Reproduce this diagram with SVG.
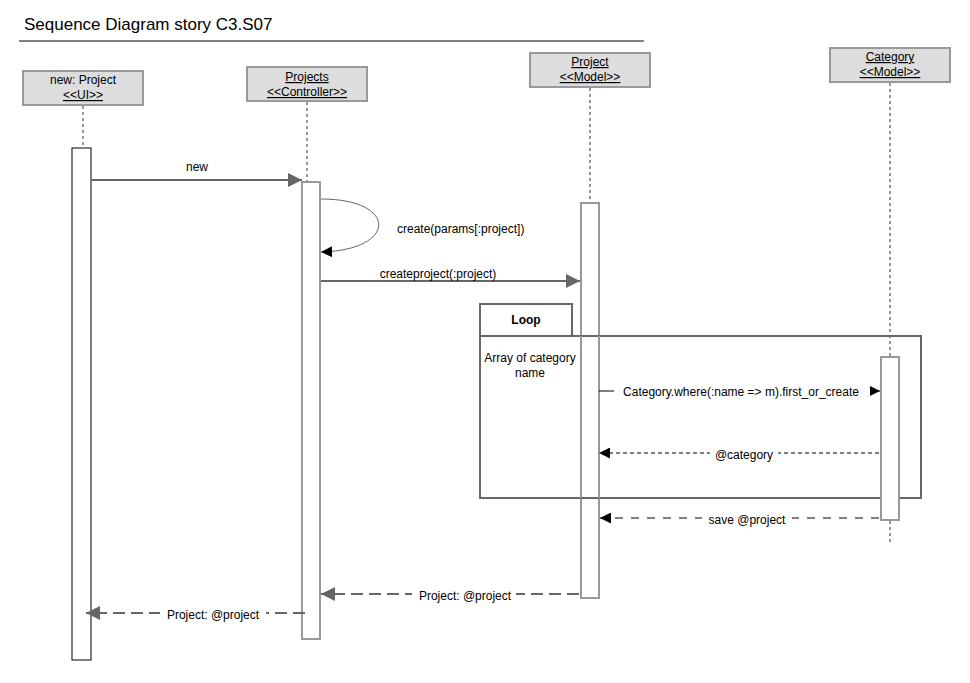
<svg xmlns="http://www.w3.org/2000/svg" width="970" height="683" viewBox="0 0 970 683">
<style>
text{font-family:"Liberation Sans",Arial,sans-serif;font-size:12px;fill:#000}
.hdr{fill:#dddddd;stroke:#999;stroke-width:2}
.u{text-decoration:underline}
.life{stroke:#999;stroke-width:2;stroke-dasharray:3 3;fill:none}
.act{fill:#fff;stroke:#999;stroke-width:2}
.g{stroke:#666;stroke-width:2;fill:none}
.gd{stroke:#666;stroke-width:2;fill:none;stroke-dasharray:12 6}
.k{stroke:#000;stroke-width:1;fill:none}
.kd{stroke:#000;stroke-width:1;fill:none;stroke-dasharray:4 3}
.kd2{stroke:#000;stroke-width:1;fill:none;stroke-dasharray:8 8}
.lbl{text-anchor:middle}
.bg{fill:#fff}
</style>
<defs>
<marker id="agl" viewBox="0 0 10 10" refX="10" refY="5" markerWidth="14" markerHeight="14" markerUnits="userSpaceOnUse" orient="auto"><path d="M0,0L10,5L0,10z" fill="#666"/></marker>
<marker id="ak" viewBox="0 0 10 10" refX="10" refY="5" markerWidth="11" markerHeight="11" markerUnits="userSpaceOnUse" orient="auto"><path d="M0,0L10,5L0,10z" fill="#000"/></marker>
</defs>

<text x="24" y="30" style="font-size:17px">Sequence Diagram story C3.S07</text>
<line x1="19" y1="41" x2="644" y2="41" stroke="#000" stroke-width="1"/>

<g id="ui">
<rect class="hdr" x="23" y="71" width="120" height="34"/>
<text class="lbl" x="83" y="84">new: Project</text>
<text class="lbl u" x="83" y="99">&lt;&lt;UI&gt;&gt;</text>
<line class="life" x1="83" y1="106" x2="83" y2="147"/>
<rect x="72" y="148" width="19" height="512" fill="#fff" stroke="#000" stroke-width="1"/>
</g>

<g id="controller">
<rect class="hdr" x="247" y="67" width="120" height="34"/>
<text class="lbl u" x="307" y="81">Projects</text>
<text class="lbl u" x="307" y="96">&lt;&lt;Controller&gt;&gt;</text>
<line class="life" x1="307" y1="102" x2="307" y2="181"/>
<rect class="act" x="302" y="182" width="18" height="457"/>
</g>

<g id="projectmodel">
<rect class="hdr" x="530" y="53" width="120" height="34"/>
<text class="lbl u" x="590" y="66">Project</text>
<text class="lbl u" x="590" y="81">&lt;&lt;Model&gt;&gt;</text>
<line class="life" x1="590" y1="88" x2="590" y2="202"/>
<rect class="act" x="581" y="203" width="18" height="395"/>
</g>

<g id="categorymodel">
<rect class="hdr" x="830" y="48" width="120" height="34"/>
<text class="lbl u" x="890" y="61">Category</text>
<text class="lbl u" x="890" y="76">&lt;&lt;Model&gt;&gt;</text>
<line class="life" x1="890" y1="83" x2="890" y2="543"/>
</g>

<g id="loop">
<rect x="480" y="336" width="441" height="162" fill="none" stroke="#666" stroke-width="2"/>
<rect x="480" y="304" width="92" height="32" fill="#fff" stroke="#666" stroke-width="2"/>
<text class="lbl" x="526" y="324" style="font-weight:bold">Loop</text>
<text class="lbl" x="530" y="362">Array of category</text>
<text class="lbl" x="530" y="377">name</text>
</g>

<g id="catact">
<rect class="act" x="881" y="357" width="18" height="163"/>
</g>
<g id="projact-over">
<line x1="581" y1="336" x2="581" y2="498" stroke="#999" stroke-width="2"/>
<line x1="599" y1="336" x2="599" y2="498" stroke="#999" stroke-width="2"/>
<rect x="582" y="337" width="16" height="160" fill="#fff"/>
</g>

<g id="connectors">
<line class="g" x1="91" y1="180" x2="302" y2="180" marker-end="url(#agl)"/>
<text class="lbl" x="197" y="171">new</text>

<path d="M321,199 C398,199 398,250 321,252" stroke="#666" stroke-width="1" fill="none" marker-end="url(#ak)"/>
<text x="397" y="233">create(params[:project])</text>

<line class="g" x1="321" y1="281" x2="580" y2="281" marker-end="url(#agl)"/>
<text class="lbl" x="438" y="278">createproject(:project)</text>

<line class="k" x1="599" y1="391" x2="880" y2="391" marker-end="url(#ak)"/>
<rect class="bg" x="614" y="383" width="256" height="16"/>
<text class="lbl" x="741" y="396">Category.where(:name =&gt; m).first_or_create</text>

<line class="kd" x1="879" y1="453" x2="599" y2="453" marker-end="url(#ak)"/>
<rect class="bg" x="710" y="445" width="68" height="16"/>
<text class="lbl" x="744" y="459">@category</text>

<line class="kd2" x1="879" y1="518" x2="600" y2="518" marker-end="url(#ak)"/>
<rect class="bg" x="702" y="510" width="90" height="16"/>
<text class="lbl" x="747" y="524">save @project</text>

<line class="gd" x1="579" y1="594" x2="321" y2="594" marker-end="url(#agl)"/>
<rect class="bg" x="412" y="586" width="104" height="16"/>
<text class="lbl" x="465" y="600">Project: @project</text>

<line class="gd" x1="305" y1="613" x2="86" y2="613" marker-end="url(#agl)"/>
<rect class="bg" x="160" y="605" width="106" height="16"/>
<text class="lbl" x="213" y="619">Project: @project</text>
</g>
</svg>
